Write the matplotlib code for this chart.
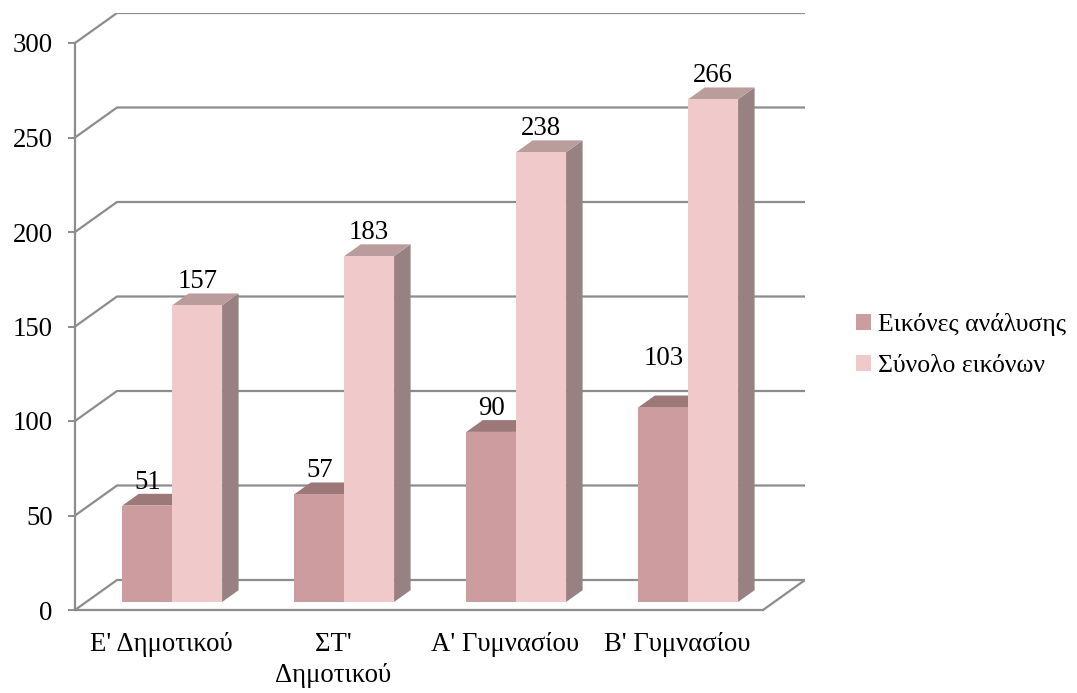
import matplotlib
matplotlib.use("Agg")
import matplotlib.pyplot as plt
from matplotlib.patches import Polygon, Patch

# ---- data -------------------------------------------------------------
categories = ["Ε' Δημοτικού", "ΣΤ'\nΔημοτικού", "Α' Γυμνασίου", "Β' Γυμνασίου"]
series_names = ["Εικόνες ανάλυσης", "Σύνολο εικόνων"]
analysis_images = [51, 57, 90, 103]
total_images = [157, 183, 238, 266]
y_ticks = [0, 50, 100, 150, 200, 250, 300]

# ---- style ------------------------------------------------------------
plt.rcParams["font.family"] = ["Liberation Serif", "DejaVu Serif"]
FS = 19.3
GRID = "#8c8c8c"
face_colors = [
    {"front": "#cc9c9e", "top": "#9c7878", "side": "#8b6e6f"},
    {"front": "#f0caca", "top": "#bb9c9c", "side": "#978182"},
]
# extra lift (points) for individual value labels
label_lift = [[0, 0, 0, 18], [0, 0, 0, 0]]

W, H = 1077, 693
fig = plt.figure(figsize=(W / 100, H / 100), dpi=100)

# pseudo-3D geometry: category width 172 px, 1.89 px per unit, wall depth (42, 30) px
cat_px, unit_px = 172, 1.89
depth_x = 42 / cat_px
depth_y = 30 / unit_px
ymax = y_ticks[-1]
n = len(categories)

ax = fig.add_axes([75 / W, (H - 610) / H,
                   (n * cat_px + 42) / W, (ymax * unit_px + 30) / H])
ax.set_xlim(0, n + depth_x)
ax.set_ylim(0, ymax + depth_y)

# back wall grid lines with their connectors to the front axis
for v in y_ticks:
    ax.plot([0, depth_x, n + depth_x], [v, v + depth_y, v + depth_y],
            color=GRID, lw=1.6, zorder=1, solid_capstyle="butt")
# right edge of the floor
ax.plot([n, n + depth_x], [0, depth_y], color=GRID, lw=1.6, zorder=1)

# axes spines = front edges
for s in ["top", "right"]:
    ax.spines[s].set_visible(False)
ax.spines["left"].set_bounds(0, ymax)
ax.spines["bottom"].set_bounds(0, n)
for s in ["left", "bottom"]:
    ax.spines[s].set_color(GRID)
    ax.spines[s].set_linewidth(1.6)

ax.set_yticks(y_ticks)
ax.tick_params(axis="y", length=5, width=1.4, color=GRID, pad=11, labelsize=FS)
ax.set_xticks([i + 0.5 for i in range(n)])
ax.set_xticklabels(categories, linespacing=1.3)
ax.tick_params(axis="x", length=0, pad=16, labelsize=FS)

# bars as boxes
f0, f1 = 0.267, 0.66
bar_w = 0.29
bar_start = 0.21


def draw_box(x0, h, colors):
    ox0, oy0 = f0 * depth_x, f0 * depth_y
    ox1, oy1 = f1 * depth_x, f1 * depth_y
    front = [(x0 + ox0, oy0), (x0 + bar_w + ox0, oy0),
             (x0 + bar_w + ox0, h + oy0), (x0 + ox0, h + oy0)]
    top = [(x0 + ox0, h + oy0), (x0 + bar_w + ox0, h + oy0),
           (x0 + bar_w + ox1, h + oy1), (x0 + ox1, h + oy1)]
    side = [(x0 + bar_w + ox0, oy0), (x0 + bar_w + ox1, oy1),
            (x0 + bar_w + ox1, h + oy1), (x0 + bar_w + ox0, h + oy0)]
    for pts, key in [(side, "side"), (top, "top"), (front, "front")]:
        ax.add_patch(Polygon(pts, closed=True, facecolor=colors[key],
                             edgecolor="none", zorder=3))


for i in range(n):
    for s, values in enumerate([analysis_images, total_images]):
        x0 = i + bar_start + s * bar_w
        v = values[i]
        draw_box(x0, v, face_colors[s])
        ax.annotate(str(v), xy=(x0 + bar_w / 2 + f0 * depth_x, v + f1 * depth_y),
                    xytext=(0, 3.8 + label_lift[s][i]), textcoords="offset points",
                    ha="center", va="baseline", fontsize=FS, zorder=5)

handles = [Patch(facecolor=c["front"], edgecolor="none") for c in face_colors]
fig.legend(handles, series_names, loc="center left",
           bbox_to_anchor=(838 / W, 1 - 345 / H), frameon=False,
           borderpad=0.2, handlelength=0.6, handleheight=0.6, handletextpad=0.25,
           labelspacing=0.75, fontsize=18.5)

fig.savefig("out.png", dpi=100)
